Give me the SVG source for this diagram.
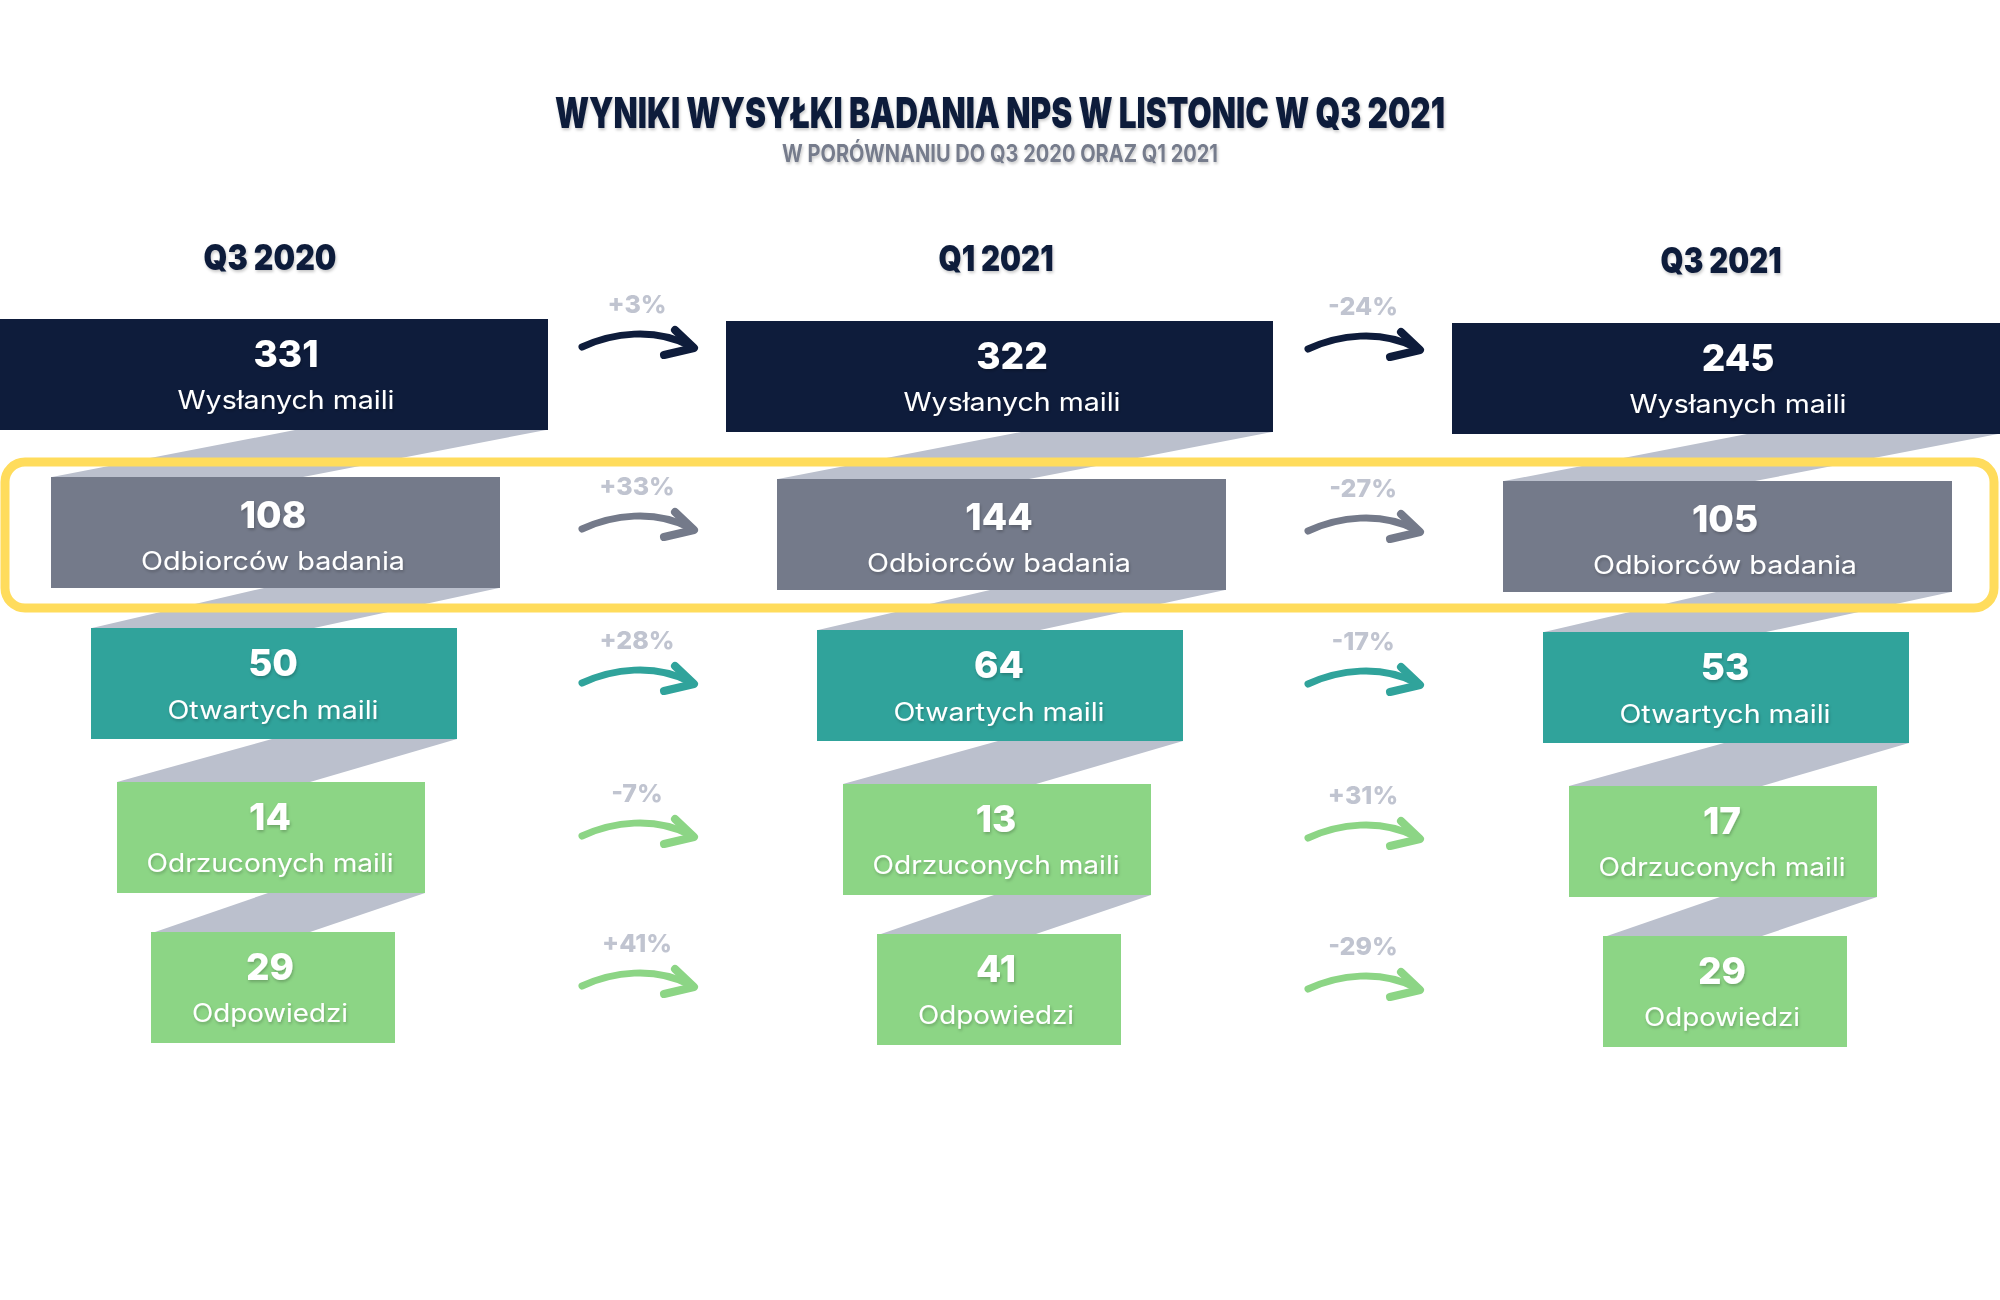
<svg xmlns="http://www.w3.org/2000/svg" width="2000" height="1300" viewBox="0 0 2000 1300">
<defs>
<style>
.title{font-family:Inter,"Liberation Sans",sans-serif;font-weight:900;fill:#0e1c3b}
.sub{font-family:Inter,"Liberation Sans",sans-serif;font-weight:700;fill:#767c8c}
.head{font-family:Inter,"Liberation Sans",sans-serif;font-weight:900;fill:#0e1c3b;font-size:35px}
.num{font-family:Inter,"Liberation Sans",sans-serif;font-weight:800;fill:#ffffff;font-size:37px;text-anchor:middle}
.lbl{font-family:Inter,"Liberation Sans",sans-serif;font-weight:400;fill:#ffffff;font-size:25px;text-anchor:middle}
.pct{font-family:Inter,"Liberation Sans",sans-serif;font-weight:800;fill:#c0c4d0;font-size:25px;text-anchor:middle}
.band{fill:#bbc0cd}
.navy{fill:#0e1c3b}
.grey{fill:#747a8a}
.teal{fill:#30a39b}
.green{fill:#8cd585}
</style>
<filter id="sh" x="-10%" y="-30%" width="120%" height="160%">
<feDropShadow dx="1" dy="2" stdDeviation="1.5" flood-color="#000" flood-opacity="0.22"/>
</filter>
<filter id="blur" x="-10%" y="-30%" width="120%" height="160%">
<feGaussianBlur stdDeviation="0.6"/>
</filter>
<g id="arrow" fill="none" stroke="currentColor" stroke-linecap="round" stroke-linejoin="round">
<path d="M2,0 C32,-14 75,-20 110,-1" stroke-width="7"/>
<path d="M95,-17 L114,1 L84,8" stroke-width="8"/>
</g>
<g id="bands">
<polygon class="band" points="295,430 546,430 303,477 52,477"/>
<polygon class="band" points="264,588 499,588 314,628 92,628"/>
<polygon class="band" points="272,739 457,739 310,782 117,782"/>
<polygon class="band" points="268,893 425,893 310,932 155,932"/>
</g>
</defs>

<rect width="2000" height="1300" fill="#ffffff"/>

<g id="title" filter="url(#sh)">
<text class="title" x="1000" y="128" font-size="43" text-anchor="middle" textLength="890" lengthAdjust="spacingAndGlyphs">WYNIKI WYSYŁKI BADANIA NPS W LISTONIC W Q3 2021</text>
<text class="sub" x="1000" y="162" font-size="24" text-anchor="middle" textLength="436" lengthAdjust="spacingAndGlyphs">W PORÓWNANIU DO Q3 2020 ORAZ Q1 2021</text>
</g>

<g id="headers" filter="url(#sh)">
<text class="head" x="270" y="270" text-anchor="middle" textLength="133" lengthAdjust="spacingAndGlyphs">Q3 2020</text>
<text class="head" x="996" y="271" text-anchor="middle" textLength="115" lengthAdjust="spacingAndGlyphs">Q1 2021</text>
<text class="head" x="1721" y="273" text-anchor="middle" textLength="121" lengthAdjust="spacingAndGlyphs">Q3 2021</text>
</g>

<g id="connectors">
<use href="#bands"/>
<use href="#bands" transform="translate(726,2)"/>
<use href="#bands" transform="translate(1452,4)"/>

<g id="pct-labels" filter="url(#blur)">
<text class="pct" x="637" y="313">+3%</text>
<text class="pct" x="637" y="495">+33%</text>
<text class="pct" x="637" y="649">+28%</text>
<text class="pct" x="637" y="802">-7%</text>
<text class="pct" x="637" y="952">+41%</text>
<text class="pct" x="1363" y="315">-24%</text>
<text class="pct" x="1363" y="497">-27%</text>
<text class="pct" x="1363" y="650">-17%</text>
<text class="pct" x="1363" y="804">+31%</text>
<text class="pct" x="1363" y="955">-29%</text>
</g>

<use href="#arrow" x="580" y="347" color="#0e1c3b"/>
<use href="#arrow" x="580" y="529" color="#747a8a"/>
<use href="#arrow" x="580" y="683" color="#30a39b"/>
<use href="#arrow" x="580" y="836" color="#8cd585"/>
<use href="#arrow" x="580" y="986" color="#8cd585"/>
<use href="#arrow" x="1306" y="349" color="#0e1c3b"/>
<use href="#arrow" x="1306" y="531" color="#747a8a"/>
<use href="#arrow" x="1306" y="684" color="#30a39b"/>
<use href="#arrow" x="1306" y="838" color="#8cd585"/>
<use href="#arrow" x="1306" y="989" color="#8cd585"/>
</g>

<rect id="highlight" x="5" y="462" width="1989" height="146" rx="20" fill="none" stroke="#ffdc5c" stroke-width="9"/>

<!-- Column Q3 2020 -->
<g id="q3-2020-sent"><rect class="navy" x="0" y="319" width="548" height="111"/><g filter="url(#sh)"><text class="num" x="286" y="367">331</text><text class="lbl" x="286" y="409" textLength="217" lengthAdjust="spacingAndGlyphs">Wysłanych maili</text></g></g>
<g id="q3-2020-recipients"><rect class="grey" x="51" y="477" width="449" height="111"/><g filter="url(#sh)"><text class="num" x="273" y="528">108</text><text class="lbl" x="273" y="570" textLength="264" lengthAdjust="spacingAndGlyphs">Odbiorców badania</text></g></g>
<g id="q3-2020-opened"><rect class="teal" x="91" y="628" width="366" height="111"/><g filter="url(#sh)"><text class="num" x="273" y="676">50</text><text class="lbl" x="273" y="719" textLength="211" lengthAdjust="spacingAndGlyphs">Otwartych maili</text></g></g>
<g id="q3-2020-rejected"><rect class="green" x="117" y="782" width="308" height="111"/><g filter="url(#sh)"><text class="num" x="270" y="830">14</text><text class="lbl" x="270" y="872" textLength="247" lengthAdjust="spacingAndGlyphs">Odrzuconych maili</text></g></g>
<g id="q3-2020-answers"><rect class="green" x="151" y="932" width="244" height="111"/><g filter="url(#sh)"><text class="num" x="270" y="980">29</text><text class="lbl" x="270" y="1022" textLength="156" lengthAdjust="spacingAndGlyphs">Odpowiedzi</text></g></g>

<!-- Column Q1 2021 -->
<g id="q1-2021-sent"><rect class="navy" x="726" y="321" width="547" height="111"/><g filter="url(#sh)"><text class="num" x="1012" y="369">322</text><text class="lbl" x="1012" y="411" textLength="217" lengthAdjust="spacingAndGlyphs">Wysłanych maili</text></g></g>
<g id="q1-2021-recipients"><rect class="grey" x="777" y="479" width="449" height="111"/><g filter="url(#sh)"><text class="num" x="999" y="530">144</text><text class="lbl" x="999" y="572" textLength="264" lengthAdjust="spacingAndGlyphs">Odbiorców badania</text></g></g>
<g id="q1-2021-opened"><rect class="teal" x="817" y="630" width="366" height="111"/><g filter="url(#sh)"><text class="num" x="999" y="678">64</text><text class="lbl" x="999" y="721" textLength="211" lengthAdjust="spacingAndGlyphs">Otwartych maili</text></g></g>
<g id="q1-2021-rejected"><rect class="green" x="843" y="784" width="308" height="111"/><g filter="url(#sh)"><text class="num" x="996" y="832">13</text><text class="lbl" x="996" y="874" textLength="247" lengthAdjust="spacingAndGlyphs">Odrzuconych maili</text></g></g>
<g id="q1-2021-answers"><rect class="green" x="877" y="934" width="244" height="111"/><g filter="url(#sh)"><text class="num" x="996" y="982">41</text><text class="lbl" x="996" y="1024" textLength="156" lengthAdjust="spacingAndGlyphs">Odpowiedzi</text></g></g>

<!-- Column Q3 2021 -->
<g id="q3-2021-sent"><rect class="navy" x="1452" y="323" width="548" height="111"/><g filter="url(#sh)"><text class="num" x="1738" y="371">245</text><text class="lbl" x="1738" y="413" textLength="217" lengthAdjust="spacingAndGlyphs">Wysłanych maili</text></g></g>
<g id="q3-2021-recipients"><rect class="grey" x="1503" y="481" width="449" height="111"/><g filter="url(#sh)"><text class="num" x="1725" y="532">105</text><text class="lbl" x="1725" y="574" textLength="264" lengthAdjust="spacingAndGlyphs">Odbiorców badania</text></g></g>
<g id="q3-2021-opened"><rect class="teal" x="1543" y="632" width="366" height="111"/><g filter="url(#sh)"><text class="num" x="1725" y="680">53</text><text class="lbl" x="1725" y="723" textLength="211" lengthAdjust="spacingAndGlyphs">Otwartych maili</text></g></g>
<g id="q3-2021-rejected"><rect class="green" x="1569" y="786" width="308" height="111"/><g filter="url(#sh)"><text class="num" x="1722" y="834">17</text><text class="lbl" x="1722" y="876" textLength="247" lengthAdjust="spacingAndGlyphs">Odrzuconych maili</text></g></g>
<g id="q3-2021-answers"><rect class="green" x="1603" y="936" width="244" height="111"/><g filter="url(#sh)"><text class="num" x="1722" y="984">29</text><text class="lbl" x="1722" y="1026" textLength="156" lengthAdjust="spacingAndGlyphs">Odpowiedzi</text></g></g>
</svg>
